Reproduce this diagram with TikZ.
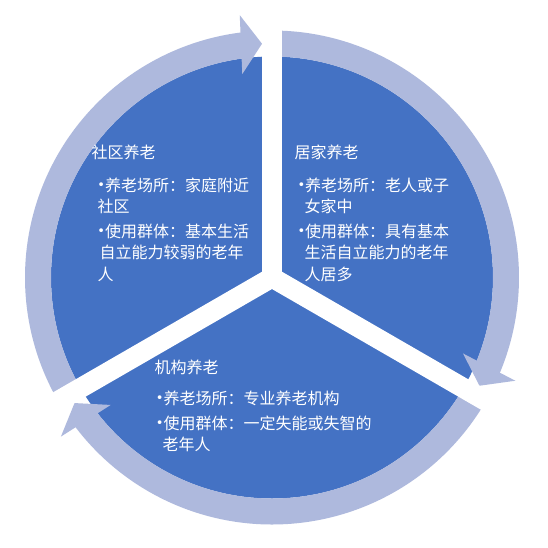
\documentclass[tikz,border=0pt]{standalone}
\usepackage{fontspec}
\usetikzlibrary{calc}
\newfontfamily\cjk{Noto Sans CJK SC}
\newfontfamily\dejavu{DejaVu Sans}
\definecolor{diskblue}{RGB}{68,114,196}
\definecolor{ringblue}{RGB}{174,185,221}
\newcommand\bul{\raisebox{1.6pt}{\fontsize{13}{13}\dejavu •}}
\begin{document}
\begin{tikzpicture}[x=1pt,y=1pt,
  txt/.style={anchor=base west, inner sep=0pt, text=white, font=\cjk\fontsize{16}{16}\selectfont},
  ringarc/.style={draw=ringblue, line width=26pt},
  head/.style={fill=ringblue},
  gap/.style={draw=white, line width=20pt}]
\fill[white] (-272,-269.5) rectangle (276,277.5);
\useasboundingbox (-272,-269.5) rectangle (276,277.5);
% disk
\fill[diskblue] (0,0) circle (221);
% ring arcs
\draw[ringarc] (210:234) arc[start angle=210, end angle=96.45, radius=234];
\draw[ringarc] (90:234) arc[start angle=90, end angle=-23.55, radius=234];
\draw[ringarc] (-30:234) arc[start angle=-30, end angle=-143.55, radius=234];
% arrow heads
\foreach \t in {92.45,-27.55,212.45}{
  \fill[head] (\t:234) -- ($(\t:263.5)+(\t+90:21)$) -- ($(\t:204.5)+(\t+90:21)$) -- cycle;
}
% white gaps
\coordinate (c) at (0,0);
\draw[gap] (c) -- (90:280);
\draw[gap] (c) -- (-30:280);
\draw[gap] (c) -- (210:280);
% texts
\begin{scope}[shift={(-272,277.5)}, yscale=-1]
\node[txt] (a0) at (91.5,158.5) {社区养老};
\node[txt] (a1) at (97.3,191) {\bul 养老场所：家庭附近};
\node[txt] (a2) at (97.5,212.5) {社区};
\node[txt] (a3) at (97.3,237) {\bul 使用群体：基本生活};
\node[txt] (a4) at (99.5,258.5) {自立能力较弱的老年};
\node[txt] (a5) at (97.5,280) {人};
\node[txt] (b0) at (294.5,158.5) {居家养老};
\node[txt] (b1) at (297.3,191) {\bul 养老场所：老人或子};
\node[txt] (b2) at (304.5,212.5) {女家中};
\node[txt] (b3) at (297.3,237) {\bul 使用群体：具有基本};
\node[txt] (b4) at (304.5,258.5) {生活自立能力的老年};
\node[txt] (b5) at (304.5,280) {人居多};
\node[txt] (c0) at (154.5,373) {机构养老};
\node[txt] (c1) at (155.8,404) {\bul 养老场所：专业养老机构};
\node[txt] (c2) at (155.8,429) {\bul 使用群体：一定失能或失智的};
\node[txt] (c3) at (162.5,450.5) {老年人};
\end{scope}
\end{tikzpicture}
\end{document}
